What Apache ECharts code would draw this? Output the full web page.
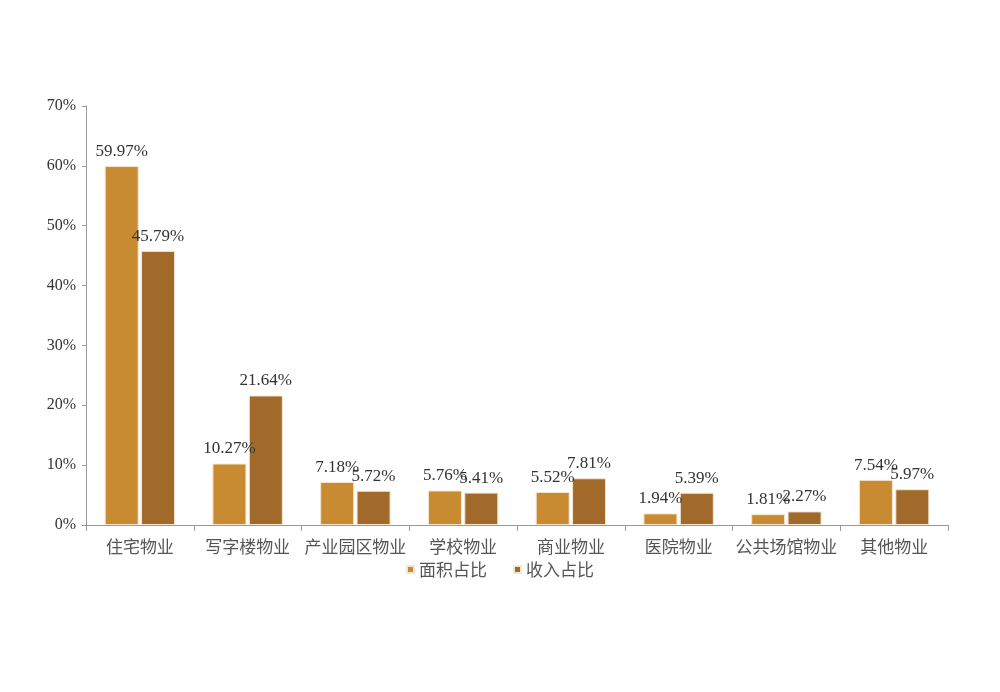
<!DOCTYPE html>
<html><head><meta charset="utf-8">
<script src="https://cdn.jsdelivr.net/npm/echarts@6/dist/echarts.min.js"></script>
<style>html,body{margin:0;padding:0;background:#fff}#c{width:1000px;height:692px}</style>
</head><body><div id="c"></div>
<script>
const categories = ['住宅物业','写字楼物业','产业园区物业','学校物业','商业物业','医院物业','公共场馆物业','其他物业'];
const areaShare = [59.97,10.27,7.18,5.76,5.52,1.94,1.81,7.54];
const incomeShare = [45.79,21.64,5.72,5.41,7.81,5.39,2.27,5.97];
const seriesNames = ['面积占比','收入占比'];
const yTicks = [0,10,20,30,40,50,60,70];

const chart = echarts.init(document.getElementById('c'));
const labelStyle = {show:true, position:'top', distance:6, fontFamily:'Liberation Serif, serif', fontSize:17, color:'#333',
  formatter: p => p.value.toFixed(2) + '%'};
chart.setOption({
  animation:false,
  textStyle:{fontFamily:'Noto Sans CJK SC'},
  grid:{left:86, right:52, top:106, bottom:167, containLabel:false},
  legend:{bottom:109, left:'center', itemWidth:7, itemHeight:7, itemGap:26, icon:'rect',
    textStyle:{fontSize:17, color:'#555', fontFamily:'Noto Sans CJK SC'}, data:seriesNames},
  xAxis:{type:'category', data:categories,
    axisLine:{lineStyle:{color:'#999'}},
    axisTick:{show:true, alignWithLabel:false, length:6, lineStyle:{color:'#999'}},
    axisLabel:{fontSize:17, color:'#555', margin:13, interval:0, fontFamily:'Noto Sans CJK SC'}},
  yAxis:{type:'value', min:0, max:70, interval:10,
    axisLine:{show:true, lineStyle:{color:'#999'}},
    axisTick:{show:true, inside:false, length:4, lineStyle:{color:'#999'}},
    splitLine:{show:false},
    axisLabel:{formatter:v => yTicks.includes(v) ? v + '%' : '', fontSize:16, color:'#333', margin:10, fontFamily:'Liberation Serif, serif'}},
  series:[
    {name:seriesNames[0], type:'bar', data:areaShare, barWidth:34, barGap:'7%',
      itemStyle:{color:'#C98B31', borderColor:'#F3E6D0', borderWidth:1}, label:labelStyle},
    {name:seriesNames[1], type:'bar', data:incomeShare, barWidth:34,
      itemStyle:{color:'#A26A2A', borderColor:'#F3E6D0', borderWidth:1}, label:labelStyle}
  ]
});
</script></body></html>
